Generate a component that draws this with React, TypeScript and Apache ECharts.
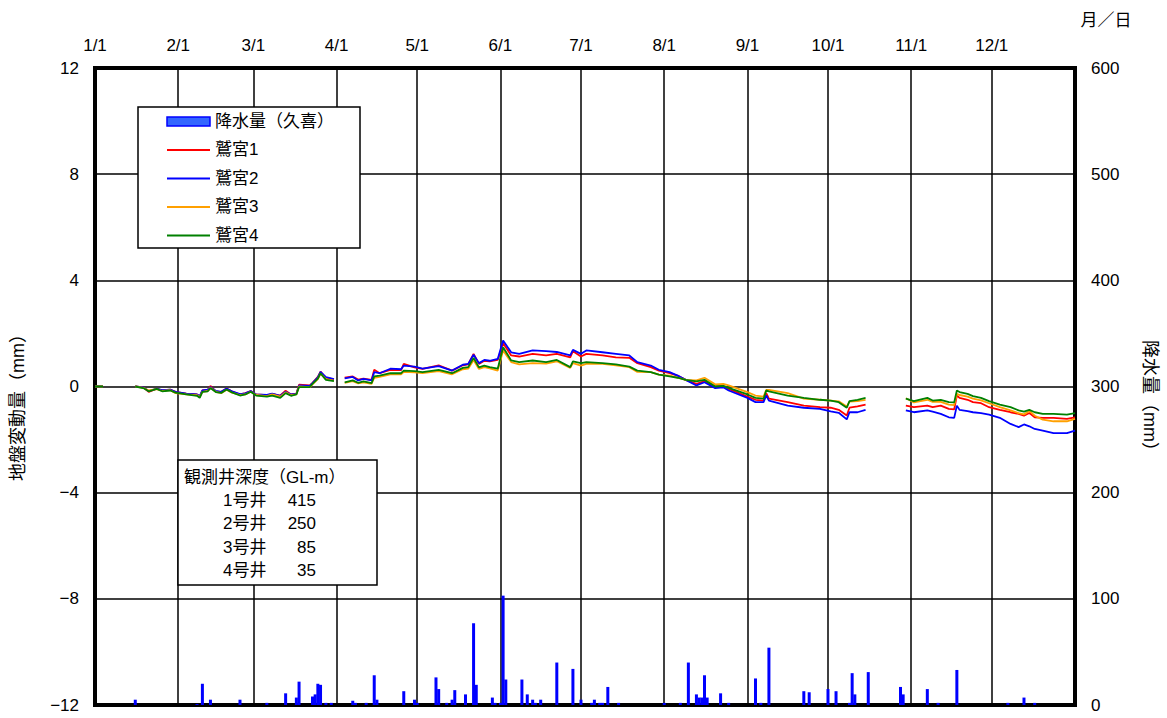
import React, { useEffect, useRef } from "react";
import * as echarts from "echarts";

// ---- Data ----
const monthStarts = [0, 31, 59, 90, 120, 151, 181, 212, 243, 273, 304, 334];
const monthLabels = ["1/1", "2/1", "3/1", "4/1", "5/1", "6/1", "7/1", "8/1", "9/1", "10/1", "11/1", "12/1"];

// day of year (0 = 1/1); null values mark gaps in the record
const lineDays = [
  0, 3,
  9,
  15, 18, 20, 23, 25, 28, 30, 34, 38, 39, 40, 42, 43, 45, 47, 49, 51, 54, 56, 58, 60, 64, 66, 69, 71, 73, 75, 76, 80, 81, 83, 84, 86, 89,
  91,
  93, 96, 98, 100, 103, 104, 106, 110, 114, 115, 119, 122, 128, 133, 137, 139, 141, 143, 145, 147, 150, 152, 155, 158, 163, 168, 172, 177, 178, 181, 183, 189, 194, 199, 202, 207, 210, 214, 217, 220, 224, 227, 231, 234, 236, 243, 246, 249, 250, 251, 258, 264, 270, 274, 277, 280, 281, 284, 287,
  295,
  302, 305, 310, 312, 315, 318, 320, 321, 322, 325, 327, 330, 333, 337, 341, 344, 346, 348, 350, 353, 357, 362, 365,
];

const washinomiya1 = [
  0, 0,
  null,
  0, -0.03, -0.2, -0.08, -0.15, -0.12, -0.2, -0.27, -0.3, -0.38, -0.15, -0.12, 0.02, -0.18, -0.2, -0.08, -0.18, -0.3, -0.25, -0.17, -0.3, -0.33, -0.28, -0.34, -0.16, -0.3, -0.27, 0.07, 0.04, 0.14, 0.36, 0.56, 0.33, 0.27,
  null,
  0.33, 0.38, 0.26, 0.3, 0.25, 0.63, 0.5, 0.63, 0.62, 0.85, 0.72, 0.66, 0.8, 0.6, 0.8, 0.83, 1.23, 0.85, 0.97, 0.95, 1.0, 1.63, 1.17, 1.13, 1.23, 1.17, 1.23, 1.1, 1.33, 1.13, 1.23, 1.17, 1.1, 1.08, 0.88, 0.73, 0.6, 0.5, 0.41, 0.25, 0.1, 0.2, 0.0, 0.02, -0.09, -0.38, -0.5, -0.53, -0.25, -0.46, -0.59, -0.72, -0.78, -0.8, -0.88, -1.09, -0.8, -0.75, -0.68,
  null,
  -0.72, -0.78, -0.72, -0.78, -0.72, -0.84, -0.86, -0.34, -0.43, -0.5, -0.59, -0.63, -0.78, -0.88, -0.97, -1.03, -1.1, -1.0, -1.16, -1.18, -1.18, -1.22, -1.16,
];

const washinomiya2 = [
  0, 0,
  null,
  0, -0.03, -0.17, -0.08, -0.14, -0.12, -0.2, -0.27, -0.3, -0.36, -0.15, -0.12, -0.02, -0.17, -0.2, -0.08, -0.18, -0.29, -0.26, -0.17, -0.3, -0.32, -0.27, -0.35, -0.2, -0.3, -0.28, 0.04, 0.02, 0.13, 0.34, 0.55, 0.35, 0.28,
  null,
  0.31, 0.36, 0.23, 0.29, 0.23, 0.54, 0.5, 0.67, 0.65, 0.79, 0.75, 0.67, 0.77, 0.6, 0.82, 0.85, 1.2, 0.88, 1.0, 0.97, 1.04, 1.73, 1.29, 1.23, 1.36, 1.33, 1.3, 1.17, 1.38, 1.23, 1.36, 1.29, 1.23, 1.17, 0.92, 0.79, 0.63, 0.54, 0.41, 0.25, 0.04, 0.16, -0.06, -0.03, -0.15, -0.43, -0.59, -0.59, -0.34, -0.53, -0.72, -0.8, -0.84, -0.94, -0.99, -1.24, -0.97, -0.97, -0.88,
  null,
  -0.9, -0.97, -0.9, -0.95, -1.03, -1.16, -1.18, -0.72, -0.88, -0.93, -0.97, -1.0, -1.06, -1.18, -1.41, -1.53, -1.43, -1.5, -1.6, -1.66, -1.76, -1.76, -1.66,
];

const washinomiya3 = [
  0, 0,
  null,
  0, -0.05, -0.15, -0.1, -0.17, -0.14, -0.25, -0.3, -0.33, -0.4, -0.2, -0.17, -0.05, -0.2, -0.25, -0.12, -0.23, -0.32, -0.3, -0.2, -0.32, -0.36, -0.3, -0.38, -0.22, -0.33, -0.3, 0.0, -0.02, 0.08, 0.28, 0.48, 0.28, 0.22,
  null,
  0.14, 0.2, 0.12, 0.16, 0.1, 0.33, 0.36, 0.46, 0.46, 0.55, 0.53, 0.5, 0.58, 0.46, 0.65, 0.67, 1.0, 0.66, 0.73, 0.68, 0.6, 1.36, 0.92, 0.83, 0.88, 0.86, 0.95, 0.7, 0.88, 0.79, 0.85, 0.85, 0.8, 0.73, 0.55, 0.54, 0.45, 0.41, 0.33, 0.25, 0.23, 0.33, 0.08, 0.1, 0.04, -0.21, -0.34, -0.38, -0.13, -0.13, -0.25, -0.46, -0.5, -0.53, -0.56, -0.75, -0.57, -0.55, -0.5,
  null,
  -0.44, -0.6, -0.5, -0.58, -0.58, -0.68, -0.7, -0.28, -0.32, -0.38, -0.46, -0.52, -0.63, -0.78, -0.9, -1.0, -1.05, -0.92, -1.1, -1.25, -1.31, -1.31, -1.22,
];

const washinomiya4 = [
  0, 0,
  null,
  0, -0.06, -0.18, -0.09, -0.18, -0.15, -0.23, -0.3, -0.35, -0.43, -0.2, -0.18, -0.06, -0.21, -0.24, -0.11, -0.22, -0.34, -0.3, -0.2, -0.34, -0.38, -0.34, -0.43, -0.25, -0.35, -0.3, -0.02, -0.02, 0.1, 0.3, 0.5, 0.25, 0.2,
  null,
  0.16, 0.23, 0.14, 0.19, 0.13, 0.38, 0.41, 0.5, 0.5, 0.6, 0.58, 0.54, 0.63, 0.5, 0.7, 0.73, 1.08, 0.72, 0.79, 0.73, 0.67, 1.48, 0.98, 0.92, 0.98, 0.92, 1.0, 0.73, 0.95, 0.88, 0.92, 0.88, 0.83, 0.75, 0.6, 0.54, 0.45, 0.38, 0.33, 0.25, 0.19, 0.25, 0.0, 0.02, -0.05, -0.3, -0.43, -0.46, -0.15, -0.18, -0.34, -0.43, -0.5, -0.53, -0.59, -0.8, -0.55, -0.5, -0.43,
  null,
  -0.46, -0.55, -0.43, -0.53, -0.5, -0.59, -0.6, -0.15, -0.21, -0.28, -0.36, -0.43, -0.55, -0.68, -0.78, -0.9, -0.95, -0.88, -0.97, -1.03, -1.03, -1.06, -1.0,
];

const rainDays = [
  15, 38, 40, 43, 54, 64, 71, 75, 76, 81,
  82, 83, 84, 86, 88, 96, 97, 101, 104, 105,
  115, 119, 120, 127, 128, 131, 133, 134, 138, 141,
  142, 148, 149, 151, 152, 153, 159, 161, 163, 164,
  166, 172, 178, 181, 185, 186, 188, 189, 191, 195,
  212, 218, 221, 224, 225, 226, 227, 228, 233, 236,
  246, 248, 251, 264, 266, 273, 276, 281, 282, 283,
  288, 300, 301, 310, 314, 321, 340, 346, 350,
];
const rainMm = [
  5, 1, 20, 5, 5, 2, 11, 7, 22, 8,
  10, 20, 19, 2, 2, 4, 2, 2, 28, 5,
  13, 5, 2, 26, 15, 2, 5, 14, 10, 77,
  19, 7, 2, 2, 103, 24, 24, 10, 5, 2,
  5, 40, 34, 5, 2, 5, 2, 2, 17, 2,
  2, 2, 40, 10, 7, 7, 28, 7, 11, 2,
  25, 2, 54, 13, 12, 15, 13, 2, 30, 10,
  31, 17, 10, 15, 2, 33, 2, 7, 2,
];

const seriesNames = ["降水量（久喜）", "鷲宮1", "鷲宮2", "鷲宮3", "鷲宮4"];
const wellLabels = ["1号井", "2号井", "3号井", "4号井"];
const wellDepths = ["415", "250", "85", "35"];

const FONT = '"Liberation Sans", "Noto Sans CJK JP", sans-serif';
const lineColors = ["#ff0000", "#0000ff", "#ffa000", "#008000"];

function buildOption() {
  const dayCats = Array.from({ length: 366 }, (_, i) => String(i));
  const isMonth = (i: number) => monthStarts.indexOf(i) >= 0;
  const lineSets = [washinomiya1, washinomiya2, washinomiya3, washinomiya4];

  const lineSeries = lineSets.map((vals, k) => ({
    name: seriesNames[k + 1],
    type: "line",
    xAxisIndex: 1,
    yAxisIndex: 0,
    data: lineDays.map((d, i) => [d, vals[i]]),
    symbol: "none",
    showSymbol: false,
    connectNulls: false,
    lineStyle: { width: 1.8, color: lineColors[k] },
    itemStyle: { color: lineColors[k] },
    z: 3,
  }));

  const graphics: any[] = [
    {
      type: "rect",
      shape: { x: 138, y: 107, width: 222, height: 141 },
      style: { fill: "#fff", stroke: "#000", lineWidth: 1.5 },
      z: 50,
    },
    {
      type: "rect",
      shape: { x: 178, y: 460, width: 199, height: 125 },
      style: { fill: "#fff", stroke: "#000", lineWidth: 1.5 },
      z: 50,
    },
    {
      type: "text",
      x: 184,
      y: 477,
      style: { text: "観測井深度（GL-m）", font: `17px ${FONT}`, fill: "#000", textAlign: "left", textVerticalAlign: "middle" },
      z: 51,
    },
    {
      type: "text",
      x: 18,
      y: 403,
      rotation: Math.PI / 2,
      style: { text: "地盤変動量（mm）", font: `18px ${FONT}`, fill: "#000", textAlign: "center", textVerticalAlign: "middle" },
      z: 51,
    },
    {
      type: "text",
      x: 1150,
      y: 400,
      rotation: -Math.PI / 2,
      style: { text: "降水量（mm）", font: `18px ${FONT}`, fill: "#000", textAlign: "center", textVerticalAlign: "middle" },
      z: 51,
    },
    {
      type: "text",
      x: 1106,
      y: 20,
      style: { text: "月／日", font: `17px ${FONT}`, fill: "#000", textAlign: "center", textVerticalAlign: "middle" },
      z: 51,
    },
  ];
  const rowsY = [500, 523.5, 547, 570.5];
  wellLabels.forEach((lab, i) => {
    graphics.push({
      type: "text",
      x: 223,
      y: rowsY[i],
      style: { text: lab, font: `17px ${FONT}`, fill: "#000", textAlign: "left", textVerticalAlign: "middle" },
      z: 51,
    });
    graphics.push({
      type: "text",
      x: 316,
      y: rowsY[i],
      style: { text: wellDepths[i], font: `17px ${FONT}`, fill: "#000", textAlign: "right", textVerticalAlign: "middle" },
      z: 51,
    });
  });

  return {
    animation: false,
    backgroundColor: "#fff",
    textStyle: { fontFamily: FONT },
    grid: {
      left: 95,
      right: 92,
      top: 68,
      bottom: 13,
      show: true,
      borderColor: "#000",
      borderWidth: 4,
      backgroundColor: "transparent",
    },
    legend: {
      orient: "vertical",
      left: 166,
      top: 113,
      padding: 0,
      itemWidth: 43,
      itemHeight: 9,
      itemGap: 11.5,
      z: 60,
      textStyle: { fontSize: 17, color: "#000", fontFamily: FONT, lineHeight: 16 },
      data: [
        { name: seriesNames[0], icon: "rect", itemStyle: { color: "#3366ff", borderColor: "#0000ff", borderWidth: 1.5 } },
        ...seriesNames.slice(1).map((n) => ({
          name: n,
          itemStyle: { opacity: 0, color: "transparent", borderWidth: 0 },
        })),
      ],
    },
    xAxis: [
      {
        type: "category",
        position: "top",
        data: dayCats,
        boundaryGap: false,
        axisLine: { show: false },
        axisTick: { show: false },
        axisLabel: {
          interval: (i: number) => isMonth(i),
          formatter: (_v: string, i: number) => {
            const k = monthStarts.indexOf(i);
            return k >= 0 ? monthLabels[k] : "";
          },
          margin: 14,
          fontSize: 17,
          color: "#000",
          fontFamily: FONT,
        },
        splitLine: {
          show: true,
          interval: (i: number) => isMonth(i),
          lineStyle: { color: "#000", width: 1.5 },
        },
      },
      { type: "value", min: 0, max: 365, show: false },
    ],
    yAxis: [
      {
        type: "value",
        min: -12,
        max: 12,
        interval: 4,
        axisLine: { show: false },
        axisTick: { show: false },
        axisLabel: {
          margin: 16,
          fontSize: 17,
          color: "#000",
          fontFamily: FONT,
          formatter: (v: number) => (v < 0 ? "−" + Math.abs(v) : String(v)),
        },
        splitLine: { show: true, lineStyle: { color: "#000", width: 1.5 } },
      },
      {
        type: "value",
        position: "right",
        min: 0,
        max: 600,
        interval: 100,
        axisLine: { show: false },
        axisTick: { show: false },
        axisLabel: { margin: 16, fontSize: 17, color: "#000", fontFamily: FONT },
        splitLine: { show: false },
      },
    ],
    series: [
      {
        name: seriesNames[0],
        type: "bar",
        xAxisIndex: 1,
        yAxisIndex: 1,
        barWidth: 3,
        data: rainDays.map((d, i) => [d, rainMm[i]]),
        itemStyle: { color: "#0000ff" },
        z: 2,
      },
      ...lineSeries,
    ],
    graphic: graphics,
  };
}

export default function App() {
  const ref = useRef<HTMLDivElement>(null);
  useEffect(() => {
    document.body.style.margin = "0";
    const chart = echarts.init(ref.current!, null, { renderer: "svg" });
    chart.setOption(buildOption() as any);
    return () => chart.dispose();
  }, []);
  return <div ref={ref} style={{ width: 1167, height: 718 }} />;
}
